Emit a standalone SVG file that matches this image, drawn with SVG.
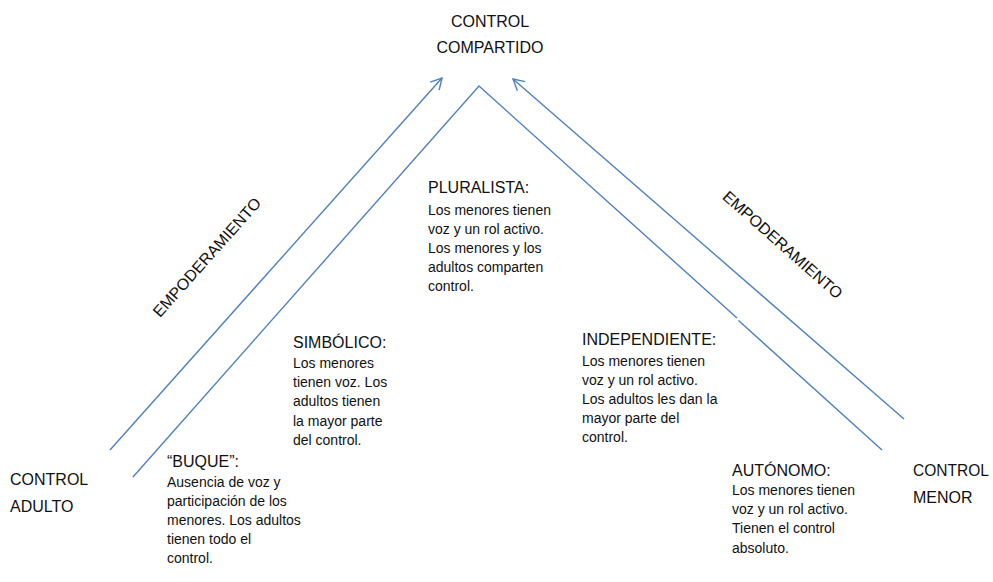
<svg xmlns="http://www.w3.org/2000/svg" width="993" height="582" viewBox="0 0 993 582">
<defs>
<style>
.ln{fill:none;stroke:#4F81BD;stroke-width:1.4}
.h{font-family:"Liberation Sans",Arial,sans-serif;font-size:16px;fill:#111}
.b{font-family:"Liberation Sans",Arial,sans-serif;font-size:14px;fill:#111}
</style>
<marker id="arr" markerWidth="14" markerHeight="14" refX="12" refY="7" orient="auto" markerUnits="userSpaceOnUse">
<path d="M1,1 L12,7 L1,13" fill="none" stroke="#4F81BD" stroke-width="1.4"/>
</marker>
</defs>
<rect width="993" height="582" fill="#fff"/>
<g id="connectors">
<line class="ln" x1="110" y1="450" x2="442" y2="78" marker-end="url(#arr)"/>
<line class="ln" x1="904" y1="419" x2="513" y2="79" marker-end="url(#arr)"/>
<polyline class="ln" points="133,477 479,86 737,318"/>
<line class="ln" x1="738.5" y1="320.5" x2="882" y2="450"/>
</g>
<g id="control-compartido">
<text class="h" x="490" y="27" text-anchor="middle">CONTROL</text>
<text class="h" x="490" y="53" text-anchor="middle">COMPARTIDO</text>
</g>
<g id="empoderamiento-izq">
<text class="h" text-anchor="middle" transform="translate(211,261) rotate(-48.3)">EMPODERAMIENTO</text>
</g>
<g id="empoderamiento-der">
<text class="h" text-anchor="middle" transform="translate(779,249) rotate(41.5)">EMPODERAMIENTO</text>
</g>
<g id="pluralista">
<text class="h" x="428" y="193">PLURALISTA:</text>
<text class="b" x="428" y="215">Los menores tienen</text>
<text class="b" x="428" y="234">voz y un rol activo.</text>
<text class="b" x="428" y="253">Los menores y los</text>
<text class="b" x="428" y="272">adultos comparten</text>
<text class="b" x="428" y="291">control.</text>
</g>
<g id="simbolico">
<text class="h" x="293" y="348">SIMBÓLICO:</text>
<text class="b" x="293" y="368">Los menores</text>
<text class="b" x="293" y="387">tienen voz. Los</text>
<text class="b" x="293" y="406">adultos tienen</text>
<text class="b" x="293" y="426">la mayor parte</text>
<text class="b" x="293" y="445">del control.</text>
</g>
<g id="independiente">
<text class="h" x="582" y="345">INDEPENDIENTE:</text>
<text class="b" x="582" y="366">Los menores tienen</text>
<text class="b" x="582" y="385">voz y un rol activo.</text>
<text class="b" x="582" y="404">Los adultos les dan la</text>
<text class="b" x="582" y="423">mayor parte del</text>
<text class="b" x="582" y="442">control.</text>
</g>
<g id="buque">
<text class="h" x="167" y="467">“BUQUE”:</text>
<text class="b" x="167" y="487">Ausencia de voz y</text>
<text class="b" x="167" y="506">participación de los</text>
<text class="b" x="167" y="525">menores. Los adultos</text>
<text class="b" x="167" y="544">tienen todo el</text>
<text class="b" x="167" y="563">control.</text>
</g>
<g id="autonomo">
<text class="h" x="732" y="476">AUTÓNOMO:</text>
<text class="b" x="732" y="495">Los menores tienen</text>
<text class="b" x="732" y="514">voz y un rol activo.</text>
<text class="b" x="732" y="533">Tienen el control</text>
<text class="b" x="732" y="553">absoluto.</text>
</g>
<g id="control-adulto">
<text class="h" x="10" y="485">CONTROL</text>
<text class="h" x="10" y="512">ADULTO</text>
</g>
<g id="control-menor">
<text class="h" x="913" y="476" textLength="76" lengthAdjust="spacingAndGlyphs">CONTROL</text>
<text class="h" x="913" y="503">MENOR</text>
</g>
</svg>
